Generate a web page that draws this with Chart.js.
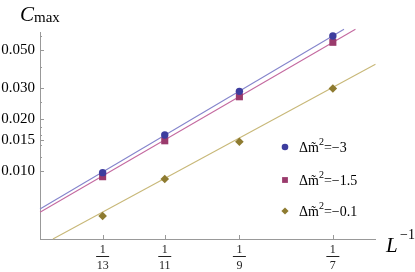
<!DOCTYPE html>
<html lang="en">
<head>
    <meta charset="UTF-8">
    <title>C max vs 1/L</title>
    <script src="https://cdn.jsdelivr.net/npm/chart.js"></script>
    <style>
        html, body { margin: 0; padding: 0; background: #fff; }
        #box { width: 415px; height: 272px; }
    </style>
</head>
<body>
    <div id="box"><canvas id="grafico"></canvas></div>

<script>
    // valores (escala log-log)
    const xPontos = [1 / 13, 1 / 11, 1 / 9, 1 / 7]
    const xTickLabels = ['13', '11', '9', '7']

    const serieA = [0.00974, 0.0161, 0.0288, 0.0603]   // Δm̃² = -3
    const serieB = [0.00923, 0.0149, 0.0268, 0.0554]   // Δm̃² = -1.5
    const serieC = [0.00547, 0.00895, 0.01472, 0.0299] // Δm̃² = -0.1

    // retas de ajuste (extremos)
    const ajusteAx = [0.0650, 0.1472]
    const ajusteAy = [0.0060, 0.0659]
    const ajusteBx = [0.0650, 0.1518]
    const ajusteBy = [0.00574, 0.0659]
    const ajusteCx = [0.0673, 0.1602]
    const ajusteCy = [0.00402, 0.0413]

    const yTicks = [0.010, 0.015, 0.020, 0.030, 0.050]
    const yTickLabels = ['0.010', '0.015', '0.020', '0.030', '0.050']
    const yMinor = [0.012, 0.014, 0.016, 0.018, 0.025, 0.04, 0.06]

    const legendas = ['=\u22123', '=\u22121.5', '=\u22120.1']

    const corPonto = ['#3d3d9e', '#9a3a6c', '#8e7b30']
    const corLinha = ['#8585cc', '#c46aa0', '#c8b878']
    const estilos = ['circle', 'rect', 'rectRot']

    function pares(xs, ys) {
        return xs.map((x, i) => ({ x: x, y: ys[i] }))
    }

    const serif = 'Liberation Serif, Times New Roman, serif'

    function marcador(ctx, tipo, x, y, r) {
        ctx.beginPath()
        if (tipo == 'circle') {
            ctx.arc(x, y, r, 0, Math.PI * 2)
        } else if (tipo == 'rect') {
            ctx.rect(x - r, y - r, 2 * r, 2 * r)
        } else {
            ctx.moveTo(x - r, y)
            ctx.lineTo(x, y - r)
            ctx.lineTo(x + r, y)
            ctx.lineTo(x, y + r)
            ctx.closePath()
        }
        ctx.fill()
    }

    const extras = {
        id: 'extras',
        afterDraw(chart) {
            const ctx = chart.ctx
            const xs = chart.scales.x
            const ys = chart.scales.y
            const area = chart.chartArea
            ctx.save()

            // marcas dos eixos (para dentro, estilo Mathematica)
            ctx.strokeStyle = '#999'
            ctx.lineWidth = 1
            ctx.beginPath()
            yTicks.forEach(v => {
                const py = Math.round(ys.getPixelForValue(v)) + 0.5
                ctx.moveTo(area.left, py)
                ctx.lineTo(area.left + 4, py)
            })
            yMinor.forEach(v => {
                const py = Math.round(ys.getPixelForValue(v)) + 0.5
                ctx.moveTo(area.left, py)
                ctx.lineTo(area.left + 2, py)
            })
            xPontos.forEach(v => {
                const px = Math.round(xs.getPixelForValue(v)) + 0.5
                ctx.moveTo(px, area.bottom)
                ctx.lineTo(px, area.bottom - 4)
            })
            ctx.stroke()

            // frações 1/L
            ctx.fillStyle = '#222'
            ctx.strokeStyle = '#222'
            ctx.textAlign = 'center'
            ctx.textBaseline = 'alphabetic'
            ctx.font = '12px ' + serif
            xPontos.forEach((v, i) => {
                const px = xs.getPixelForValue(v)
                ctx.fillText('1', px, 253)
                ctx.beginPath()
                ctx.moveTo(px - 6.5, 256.5)
                ctx.lineTo(px + 6.5, 256.5)
                ctx.stroke()
                ctx.fillText(xTickLabels[i], px, 269)
            })

            // rótulos dos eixos
            ctx.fillStyle = '#000'
            ctx.textAlign = 'left'
            ctx.font = 'italic 21px ' + serif
            ctx.fillText('C', 20, 21)
            ctx.font = '15px ' + serif
            ctx.fillText('max', 34, 22)

            ctx.font = 'italic 21px ' + serif
            ctx.fillText('L', 386, 252)
            ctx.font = '14px ' + serif
            ctx.fillText('\u22121', 400, 239)

            // legenda
            const linhasY = [147, 180, 211]
            const tam = [3.3, 2.9, 3.6]
            linhasY.forEach((ly, i) => {
                ctx.fillStyle = corPonto[i]
                marcador(ctx, estilos[i], 285, ly, tam[i])
                ctx.fillStyle = '#000'
                ctx.textBaseline = 'middle'
                ctx.font = '14px ' + serif
                let tx = 299
                ctx.fillText('\u0394m\u0303', tx, ly + 1)
                tx += ctx.measureText('\u0394m\u0303').width
                ctx.font = '10px ' + serif
                ctx.fillText('2', tx, ly - 5)
                tx += ctx.measureText('2').width
                ctx.font = '14px ' + serif
                ctx.fillText(legendas[i], tx, ly + 1)
            })

            ctx.restore()
        }
    }

    const linhas = [[ajusteAx, ajusteAy], [ajusteBx, ajusteBy], [ajusteCx, ajusteCy]].map((a, i) => ({
        data: pares(a[0], a[1]),
        showLine: true,
        borderColor: corLinha[i],
        borderWidth: 1.1,
        pointRadius: 0,
        clip: false,
        order: 2
    }))

    const pontos = [serieA, serieB, serieC].map((s, i) => ({
        data: pares(xPontos, s),
        showLine: false,
        pointStyle: estilos[i],
        pointRadius: [3.7, 5, 4.3][i],
        backgroundColor: corPonto[i],
        borderColor: corPonto[i],
        borderWidth: 0,
        order: 1
    }))

    new Chart(document.getElementById('grafico'), {
        type: 'scatter',
        data: { datasets: linhas.concat(pontos) },
        options: {
            responsive: true,
            maintainAspectRatio: false,
            animation: false,
            layout: { padding: { top: 32, right: 40, left: 0, bottom: 0 } },
            plugins: {
                legend: { display: false },
                tooltip: { enabled: false }
            },
            scales: {
                x: {
                    type: 'logarithmic',
                    min: 0.0650,
                    max: 0.160,
                    afterBuildTicks: s => { s.ticks = xPontos.map(v => ({ value: v })) },
                    afterFit: s => { s.height = 33 },
                    ticks: { display: false },
                    grid: { display: false },
                    border: { display: true, color: '#999', width: 1 }
                },
                y: {
                    type: 'logarithmic',
                    min: 0.004022,
                    max: 0.06355,
                    afterBuildTicks: s => { s.ticks = yTicks.map(v => ({ value: v })) },
                    afterFit: s => { s.width = 40 },
                    ticks: {
                        autoSkip: false,
                        padding: 5,
                        color: '#000',
                        font: { family: serif, size: 15 },
                        callback: (v, i) => yTickLabels[i]
                    },
                    grid: { display: false, drawTicks: false },
                    border: { display: true, color: '#999', width: 1 }
                }
            }
        },
        plugins: [extras]
    });
</script>
</body>
</html>
